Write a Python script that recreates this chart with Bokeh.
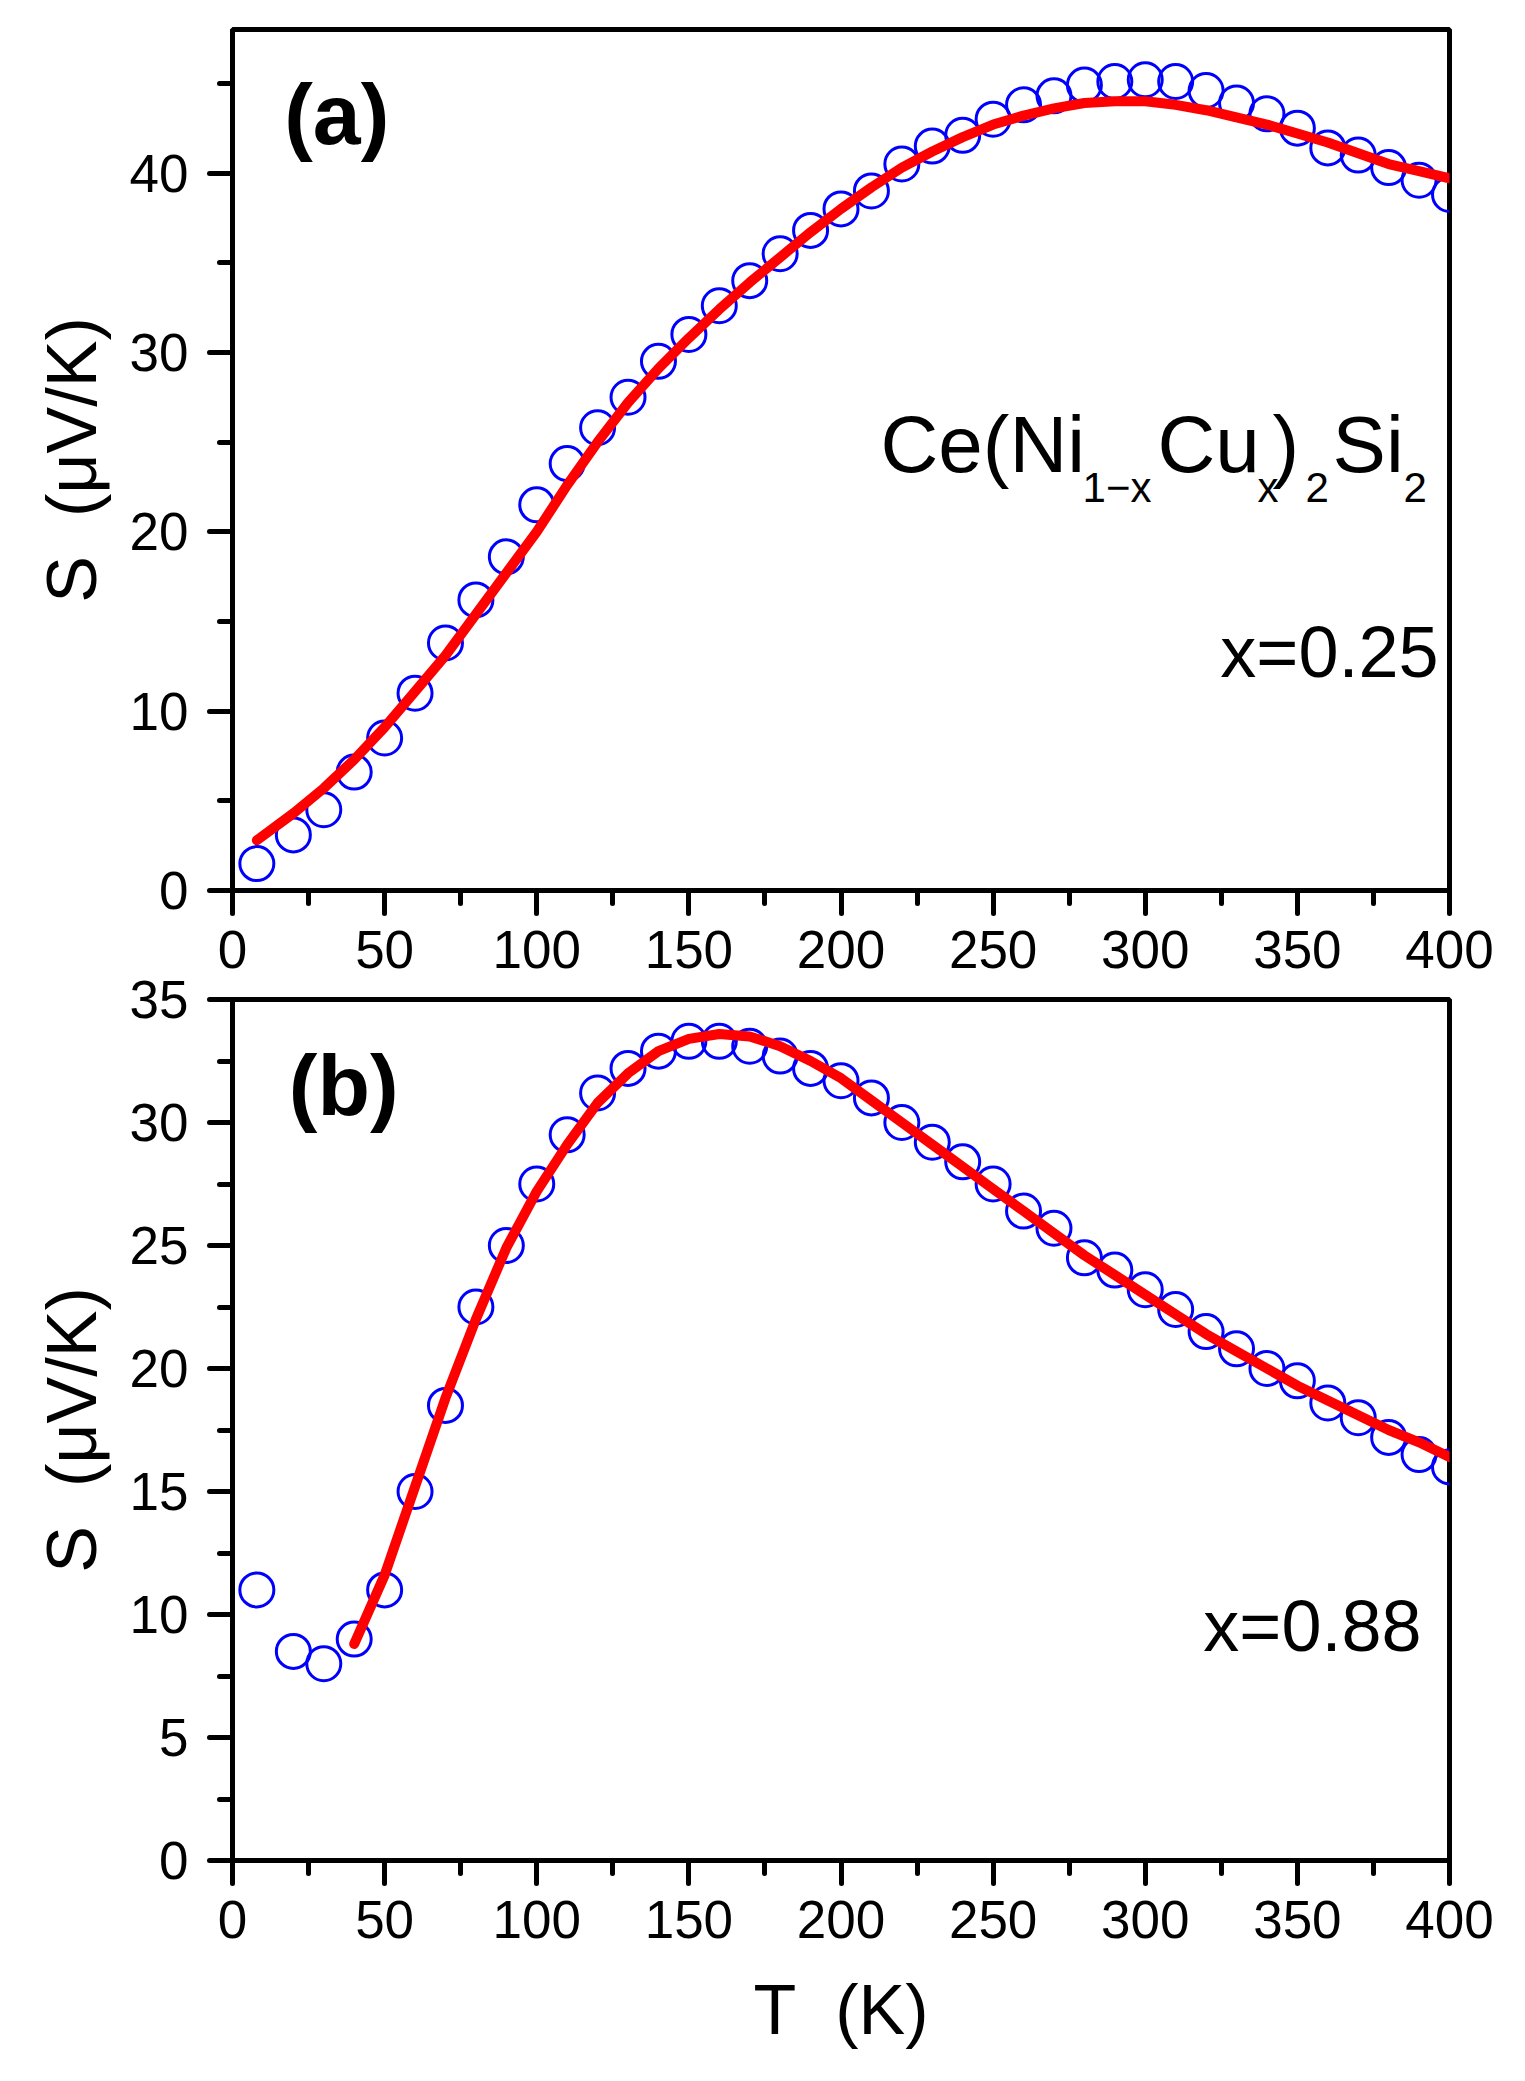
from bokeh.plotting import figure
from bokeh.layouts import column
from bokeh.models import Range1d, SingleIntervalTicker, Label
from bokeh.embed import file_html
from bokeh.resources import INLINE

FONT = "Liberation Sans"
NB = "\u00a0"

# panel (a): x = 0.25
T_a = [8, 20, 30, 40, 50, 60, 70, 80, 90, 100, 110, 120, 130, 140, 150, 160, 170, 180, 190, 200,
       210, 220, 230, 240, 250, 260, 270, 280, 290, 300, 310, 320, 330, 340, 350, 360, 370, 380, 390, 400]
S_a = [1.5, 3.1, 4.5, 6.6, 8.5, 11.0, 13.8, 16.2, 18.6, 21.5, 23.8, 25.8, 27.5, 29.5, 31.0, 32.6, 34.0, 35.5, 36.8, 38.0,
       39.0, 40.5, 41.5, 42.1, 43.0, 43.8, 44.3, 44.9, 45.1, 45.2, 45.1, 44.6, 43.9, 43.3, 42.5, 41.4, 41.0, 40.3, 39.6, 38.8]
S_a_fit = [2.8, 4.3, 5.7, 7.3, 9.1, 11.1, 13.1, 15.4, 17.7, 20.0, 22.6, 25.0, 27.2, 29.1, 30.8, 32.4, 33.9, 35.3, 36.7, 38.0,
           39.2, 40.3, 41.2, 42.0, 42.7, 43.2, 43.6, 43.9, 44.0, 44.0, 43.8, 43.5, 43.1, 42.7, 42.2, 41.7, 41.1, 40.5, 40.1, 39.7]

# panel (b): x = 0.88
T_b = T_a
S_b = [11.0, 8.5, 8.0, 9.0, 11.0, 15.0, 18.5, 22.5, 25.0, 27.5, 29.5, 31.2, 32.2, 32.9, 33.3, 33.3, 33.1, 32.7, 32.2, 31.7,
       31.0, 30.0, 29.2, 28.4, 27.5, 26.4, 25.7, 24.5, 24.0, 23.2, 22.4, 21.5, 20.8, 20.0, 19.5, 18.6, 18.0, 17.2, 16.5, 16.0]
T_b_fit = [40, 50, 60, 70, 80, 90, 100, 110, 120, 130, 140, 150, 160, 170, 180, 190, 200,
           210, 220, 230, 240, 250, 260, 270, 280, 290, 300, 310, 320, 330, 340, 350, 360, 370, 380, 390, 400]
S_b_fit = [8.8, 11.6, 15.2, 18.8, 22.0, 24.9, 27.2, 29.1, 30.8, 32.0, 32.9, 33.4, 33.6, 33.5, 33.1, 32.5, 31.8,
           30.9, 30.0, 29.1, 28.2, 27.3, 26.4, 25.5, 24.6, 23.8, 23.0, 22.2, 21.4, 20.7, 20.0, 19.3, 18.7, 18.1, 17.5, 17.0, 16.4]


def make_panel(ymax, ystep, top, bottom):
    p = figure(frame_width=1217, frame_height=861, x_range=Range1d(0, 400), y_range=Range1d(0, ymax),
               min_border_left=232, min_border_right=74, min_border_top=top, min_border_bottom=bottom,
               output_backend="svg", toolbar_location=None)
    p.grid.visible = False
    p.outline_line_color = "black"
    p.outline_line_width = 5
    p.xaxis.ticker = SingleIntervalTicker(interval=50, num_minor_ticks=2)
    p.yaxis.ticker = SingleIntervalTicker(interval=ystep, num_minor_ticks=2)
    for ax in p.xaxis + p.yaxis:
        ax.axis_line_width = 5
        ax.major_tick_line_width = 5
        ax.minor_tick_line_width = 5
        ax.major_tick_line_cap = "round"
        ax.minor_tick_line_cap = "round"
        ax.major_tick_in = 0
        ax.major_tick_out = 23
        ax.minor_tick_in = 0
        ax.minor_tick_out = 13
        ax.major_label_text_font = FONT
        ax.major_label_text_font_size = "53px"
        ax.major_label_text_color = "black"
        ax.axis_label_text_font = FONT
        ax.axis_label_text_font_size = "70px"
        ax.axis_label_text_font_style = "normal"
        ax.axis_label_text_color = "black"
    p.xaxis.major_label_standoff = 17
    p.yaxis.major_label_standoff = 21
    p.yaxis.axis_label = "S" + NB + NB + "(\u03bcV/K)"
    p.yaxis.axis_label_standoff = 16
    return p


def add_text(p, x, y, txt, size, dx=0, dy=0, align="left", style="normal"):
    # Bokeh centres the text box on the anchor; lift it so y is the baseline
    p.add_layout(Label(x=x, y=y, x_offset=dx, y_offset=dy + round(0.3465 * size), text=txt,
                       text_font=FONT, text_font_size=f"{size}px", text_font_style=style,
                       text_color="black", text_align=align, text_baseline="alphabetic"))


pa = make_panel(48, 10, 29, 95)
pa.scatter(T_a, S_a, marker="circle", size=34, fill_color=None, line_color="#0000ff", line_width=3)
pa.line(T_a, S_a_fit, line_color="#ff0000", line_width=10, line_cap="round", line_join="round")
add_text(pa, 17, 41.6, "(a)", 86, style="bold")

# Ce(Ni1-xCux)2Si2 built from normal and subscript pieces
formula = [("Ce(Ni", 80, 0, 0), ("1\u2212x", 42, 202, -30), ("Cu", 80, 277, 0), ("x", 42, 377, -30),
           (")", 80, 392, 0), ("2", 42, 425, -30), ("Si", 80, 452, 0), ("2", 42, 523, -30)]
for txt, fs, dx, dy in formula:
    add_text(pa, 213.0, 23.3, txt, fs, dx=dx, dy=dy)
add_text(pa, 396.4, 11.9, "x=0.25", 72, align="right")

pb = make_panel(35, 5, 34, 218)
pb.margin = (-20, 0, 0, 0)
pb.border_fill_color = None
pb.scatter(T_b, S_b, marker="circle", size=34, fill_color=None, line_color="#0000ff", line_width=3)
pb.line(T_b_fit, S_b_fit, line_color="#ff0000", line_width=10, line_cap="round", line_join="round")
pb.xaxis.axis_label = "T" + NB + NB + "(K)"
pb.xaxis.axis_label_standoff = 30
add_text(pb, 18.5, 30.3, "(b)", 86, style="bold")
add_text(pb, 390.8, 8.5, "x=0.88", 72, align="right")

p = column(pa, pb)
open("out.html", "w").write(file_html(p, INLINE))
